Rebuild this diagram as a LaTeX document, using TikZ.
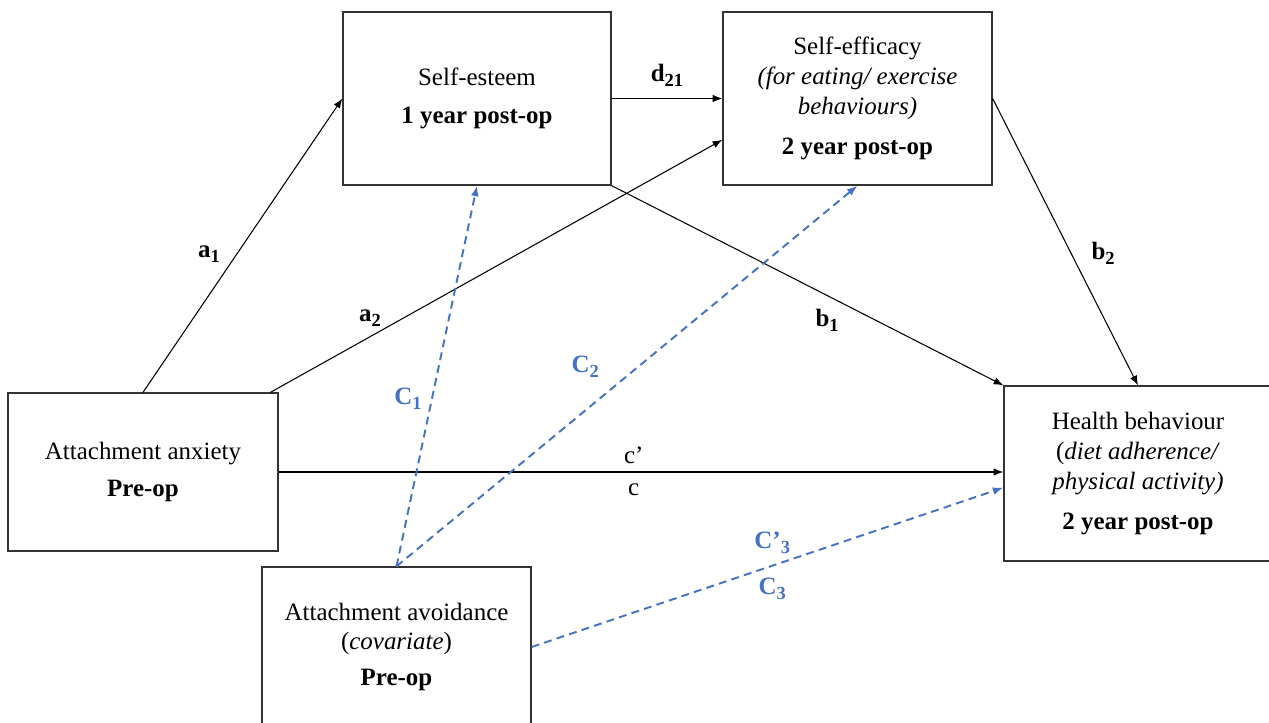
\documentclass[tikz,border=0pt]{standalone}
\usepackage{fontspec}
\setmainfont{Liberation Serif}
\usepackage{tikz}
\usetikzlibrary{arrows.meta}
\definecolor{covblue}{RGB}{68,114,196}
\newcommand{\lowsub}[1]{\raisebox{-0.45ex}{\fontsize{10.5}{11}\selectfont#1}}

\begin{document}
\begin{tikzpicture}[x=0.02cm,y=-0.02cm,line width=0.6pt,
  box/.style={draw=black!80,line width=0.75pt,align=center,inner sep=0pt,font=\fontsize{14.2}{17}\selectfont},
  path/.style={-{Latex[length=5.5pt,width=4.2pt]}},
  cov/.style={covblue,line width=1.1pt,dash pattern=on 4.5pt off 3pt,-{Latex[length=6pt,width=4.5pt]}},
  lab/.style={font=\fontsize{14.2}{17}\selectfont\bfseries},
  plainlab/.style={font=\fontsize{14.2}{17}\selectfont},
  covlab/.style={lab,text=covblue}]
\clip (0,0) rectangle (1269,723);
\useasboundingbox (0,0) rectangle (1269,723);
% boxes
\node[box,minimum width=5.36cm,minimum height=3.46cm] (esteem) at (477,98.5) {Self-esteem\\[5pt]\textbf{1 year post-op}};
\node[box,minimum width=5.38cm,minimum height=3.46cm] (efficacy) at (857.5,98.5) {Self-efficacy\\\textit{(for eating/ exercise}\\\textit{behaviours)}\\[5.7pt]\textbf{2 year post-op}};
\node[box,minimum width=5.36cm,minimum height=3.5cm] (health) at (1138,473.5) {Health behaviour\\(\textit{diet adherence/}\\\textit{physical activity)}\\[5.5pt]\textbf{2 year post-op}};
\node[box,minimum width=5.4cm,minimum height=3.16cm] (anxiety) at (143,472) {Attachment anxiety\\[4.5pt]\textbf{Pre-op}};
\node[box,minimum width=5.38cm,minimum height=3.2cm] (avoid) at (396.5,647) {Attachment avoidance\\(\textit{covariate})\\[3.5pt]\textbf{Pre-op}};
% paths
\draw[path] (anxiety.north) -- node[lab,pos=0.47,left=6pt] {a\lowsub{1}} (esteem.west);
\draw[path] (anxiety.32) -- node[lab,pos=0.22,above=2pt] {a\lowsub{2}} (efficacy.197);
\draw[path] (esteem.east) -- node[lab,above=3pt] {d\lowsub{21}} (efficacy.west);
\draw[path] (esteem.south east) -- node[lab,pos=0.55,below=4pt] {b\lowsub{1}} (health.north west);
\draw[path] (efficacy.east) -- node[lab,pos=0.54,right=8pt] {b\lowsub{2}} (health.north);
\draw[path] (anxiety.east) -- node[plainlab,pos=0.49,above=1pt] {c’} node[plainlab,pos=0.49,below=3pt] {c} (anxiety.east -| health.west);
% covariate paths
\draw[cov] (avoid.north) -- node[covlab,pos=0.44,left=2pt] {C\lowsub{1}} (esteem.south);
\draw[cov] (avoid.north) -- node[covlab,pos=0.465,above left=3pt] {C\lowsub{2}} (efficacy.south);
\draw[cov] (avoid.east) -- node[covlab,pos=0.51,above=3pt] {C’\lowsub{3}} node[covlab,pos=0.51,below=3pt] {C\lowsub{3}} (health.186.6);
\end{tikzpicture}
\end{document}
